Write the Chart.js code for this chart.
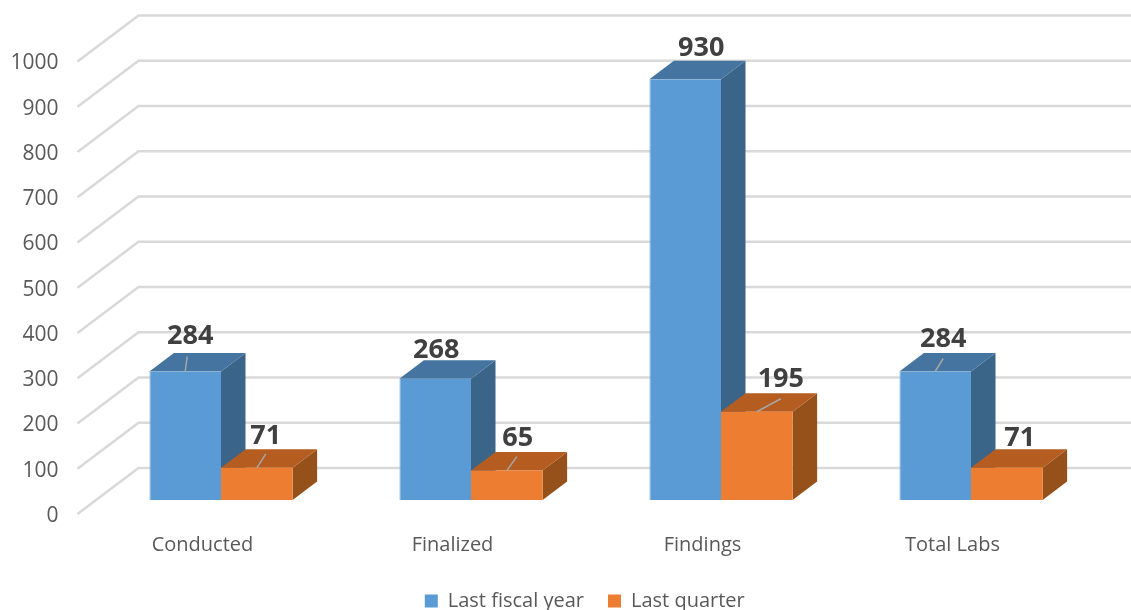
<!DOCTYPE html>
<html>
<head>
<meta charset="utf-8">
<title>Labs</title>
<script src="https://cdn.jsdelivr.net/npm/chart.js@4"></script>
<style>
    html, body { margin: 0; padding: 0; background: #fff; overflow: hidden; }
    canvas { display: block; }
</style>
</head>
<body>
<canvas id="labChart" width="1131" height="610"></canvas>
<script>
const categories = ["Conducted", "Finalized", "Findings", "Total Labs"];
const lastFiscalYear = [284, 268, 930, 284];
const lastQuarter = [71, 65, 195, 71];
const seriesNames = ["Last fiscal year", "Last quarter"];
const yTicksMax = 1000;
const yTicksStep = 100;

// 3D look: colours for front, top and side of each series
const faceColors = [
    { front: "#5b9bd5", edge: "#8db9e2", top: "#44749f", side: "#3a6488" },
    { front: "#ed7d31", edge: "#f3a66f", top: "#b55d21", side: "#96511b" }
];

const wallDepth = { x: 61, y: 46 };
const barShift = { x: 18.5, y: 14 };
const barDepth = { x: 24.5, y: 18.5 };

// Label nudges from the top middle of each bar, leader = draw the little grey line
const labelNudges = [
    [{ x: 5, y: -35, leader: [2, -15] }, { x: 1, y: -28 }, { x: 16, y: -31 }, { x: 8, y: -32, leader: [8, -13] }],
    [{ x: 9, y: -32, leader: [9, -14] }, { x: 11, y: -32, leader: [10, -14] }, { x: 24, y: -32, leader: [24, -13] }, { x: 13, y: -30 }]
];

function polygon(ctx, points, color) {
    ctx.beginPath();
    points.forEach((p, i) => i ? ctx.lineTo(p[0], p[1]) : ctx.moveTo(p[0], p[1]));
    ctx.closePath();
    ctx.fillStyle = color;
    ctx.fill();
}

const threeD = {
    id: "threeD",
    beforeDatasetsDraw(chart) {
        const ctx = chart.ctx;
        const yScale = chart.scales.y;
        const area = chart.chartArea;

        // floor edges and back wall
        ctx.save();
        ctx.strokeStyle = "#d9d9d9";
        ctx.lineWidth = 2.5;
        yScale.ticks.forEach(tick => {
            const y = yScale.getPixelForValue(tick.value);
            ctx.beginPath();
            ctx.moveTo(area.left, y);
            ctx.lineTo(area.left + wallDepth.x, y - wallDepth.y);
            ctx.lineTo(chart.width, y - wallDepth.y);
            ctx.stroke();
        });
        ctx.restore();

        // side and top of every bar, front comes from chart.js itself
        ctx.save();
        ctx.translate(barShift.x, -barShift.y);
        chart.data.datasets.forEach((ds, i) => {
            chart.getDatasetMeta(i).data.forEach(bar => {
                const left = bar.x - bar.width / 2;
                const right = bar.x + bar.width / 2;
                const d = barDepth;
                polygon(ctx, [[right, bar.y], [right + d.x, bar.y - d.y], [right + d.x, bar.base - d.y], [right, bar.base]], faceColors[i].side);
                polygon(ctx, [[left, bar.y], [left + d.x, bar.y - d.y], [right + d.x, bar.y - d.y], [right, bar.y]], faceColors[i].top);
            });
        });
    },
    afterDatasetsDraw(chart) {
        const ctx = chart.ctx;
        ctx.restore();

        ctx.save();
        ctx.textAlign = "center";
        ctx.textBaseline = "middle";
        chart.data.datasets.forEach((ds, i) => {
            chart.getDatasetMeta(i).data.forEach((bar, j) => {
                const nudge = labelNudges[i][j];
                const x = bar.x + barShift.x;
                const y = bar.y - barShift.y;
                if (nudge.leader) {
                    ctx.strokeStyle = "#a6a6a6";
                    ctx.lineWidth = 1.5;
                    ctx.beginPath();
                    ctx.moveTo(x, y);
                    ctx.lineTo(x + nudge.leader[0], y + nudge.leader[1]);
                    ctx.stroke();
                }
                ctx.font = "bold 27px 'Open Sans'";
                ctx.fillStyle = "#404040";
                ctx.fillText(ds.data[j], x + nudge.x, y + nudge.y);
            });
        });
        ctx.restore();
    },
    afterLayout(chart) {
        // legend is not centred on the page in the original, and sits lower
        chart.legend.left += 46;
        chart.legend.right += 46;
        chart.legend.top += 11;
        // room for the category labels, the scale clips them to its own box
        chart.scales.x.bottom = chart.height;
    }
};

new Chart(document.getElementById("labChart"), {
    type: "bar",
    data: {
        labels: categories,
        datasets: [
            { label: seriesNames[0], data: lastFiscalYear, backgroundColor: faceColors[0].front, borderColor: faceColors[0].edge, borderWidth: { top: 0, left: 1, right: 0, bottom: 1 } },
            { label: seriesNames[1], data: lastQuarter, backgroundColor: faceColors[1].front, borderColor: faceColors[1].edge, borderWidth: { top: 0, left: 0, right: 0, bottom: 1 } }
        ]
    },
    options: {
        responsive: false,
        animation: false,
        devicePixelRatio: 1,
        layout: { padding: { top: 61.5, right: 53.5 } },
        datasets: { bar: { categoryPercentage: 0.573, barPercentage: 1, clip: false } },
        plugins: {
            tooltip: { enabled: false },
            legend: {
                position: "bottom",
                labels: {
                    boxWidth: 13,
                    boxHeight: 13,
                    padding: 24,
                    color: "#595959",
                    generateLabels(chart) {
                        return Chart.defaults.plugins.legend.labels.generateLabels(chart).map(item => ({ ...item, lineWidth: 0 }));
                    },
                    font: { family: "'Open Sans'", size: 20 }
                }
            }
        },
        scales: {
            x: {
                grid: { display: false },
                border: { display: false },
                ticks: { color: "#595959", padding: 11, font: { family: "'Open Sans'", size: 20 } },
                afterFit(scale) { scale.height = 96 - scale.chart.legend.height; }
            },
            y: {
                min: 0,
                max: yTicksMax,
                grid: { display: false },
                border: { display: false },
                ticks: {
                    stepSize: yTicksStep,
                    color: "#595959",
                    padding: 11,
                    labelOffset: 2,
                    font: { family: "'Open Sans'", size: 21 },
                    callback: value => String(value)
                },
                afterFit(scale) { scale.width = 77.5; }
            }
        }
    },
    plugins: [threeD]
});
</script>
</body>
</html>
